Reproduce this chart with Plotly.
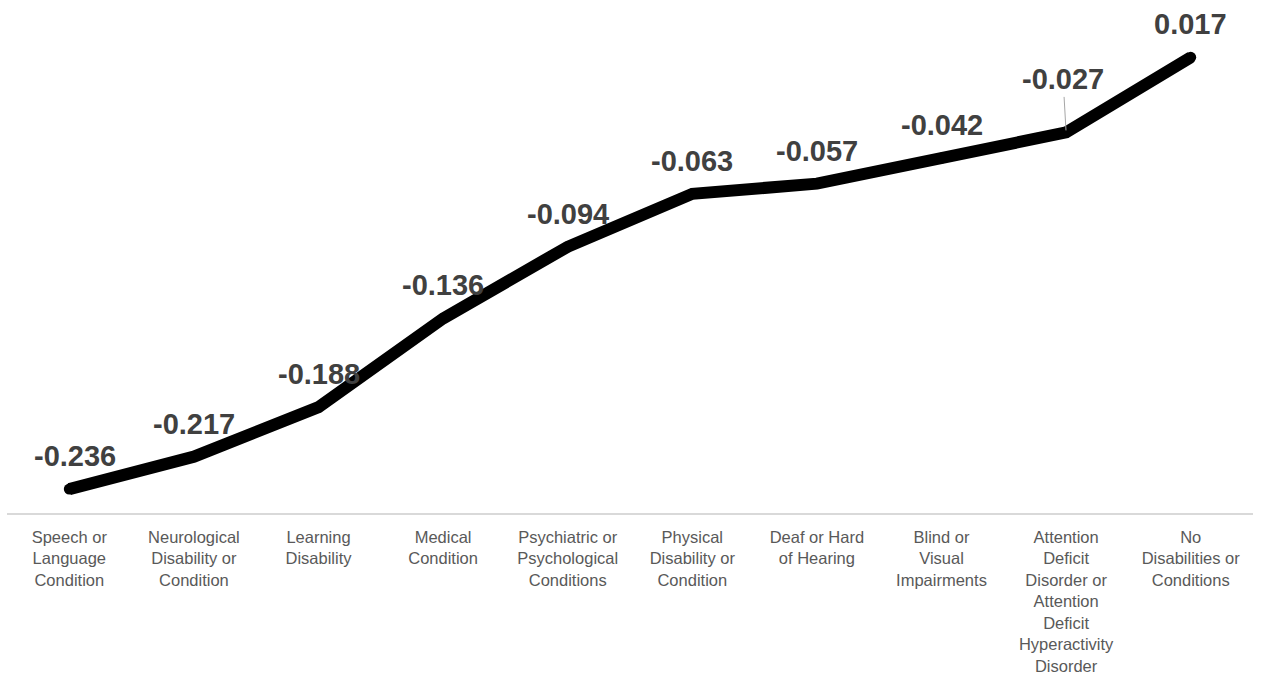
import plotly.graph_objects as go

categories = [
    "Speech or<br>Language<br>Condition",
    "Neurological<br>Disability or<br>Condition",
    "Learning<br>Disability",
    "Medical<br>Condition",
    "Psychiatric or<br>Psychological<br>Conditions",
    "Physical<br>Disability or<br>Condition",
    "Deaf or Hard<br>of Hearing",
    "Blind or<br>Visual<br>Impairments",
    "Attention<br>Deficit<br>Disorder or<br>Attention<br>Deficit<br>Hyperactivity<br>Disorder",
    "No<br>Disabilities or<br>Conditions",
]
values = [-0.236, -0.217, -0.188, -0.136, -0.094, -0.063, -0.057, -0.042, -0.027, 0.017]
labels = ["-0.236", "-0.217", "-0.188", "-0.136", "-0.094", "-0.063", "-0.057", "-0.042", "-0.027", "0.017"]

fig = go.Figure()
fig.add_trace(go.Scatter(
    x=categories, y=values, mode="lines+markers",
    line=dict(color="#000000", width=12),
    marker=dict(color="#000000", size=11, line=dict(width=0)),
    hoverinfo="skip", showlegend=False,
))

label_font = dict(family="Liberation Sans, Arial, sans-serif", size=29, color="#404040")
for i, (c, v, t) in enumerate(zip(categories, values, labels)):
    if i == 8:
        fig.add_annotation(
            x=c, y=v, xref="x", yref="y", text="<b>%s</b>" % t,
            showarrow=True, ax=-3, ay=-53, arrowhead=0, arrowwidth=1,
            arrowcolor="#a6a6a6", standoff=2, font=label_font,
        )
    else:
        dx = 6 if i == 0 else 0
        fig.add_annotation(
            x=c, y=v, xref="x", yref="y", text="<b>%s</b>" % t,
            showarrow=False, yshift=33, xshift=dx, font=label_font,
        )

fig.update_layout(
    width=1261, height=683,
    margin=dict(l=7, r=8, t=1, b=170),
    paper_bgcolor="white", plot_bgcolor="white",
    font=dict(family="Liberation Sans, Arial, sans-serif"),
    xaxis=dict(
        type="category", range=[-0.5, 9.5],
        showgrid=False, zeroline=False,
        showline=True, linecolor="#d9d9d9", linewidth=2,
        ticks="outside", ticklen=8, tickcolor="rgba(0,0,0,0)",
        tickfont=dict(size=16.5, color="#595959", family="Liberation Sans, Arial, sans-serif"),
        tickangle=0,
    ),
    yaxis=dict(range=[-0.25, 0.05], visible=False, showgrid=False, zeroline=False),
)

fig.write_html(
    "out.html",
    config={"displayModeBar": False},
    post_script="document.body.style.margin='0';document.body.style.overflow='hidden';",
)
